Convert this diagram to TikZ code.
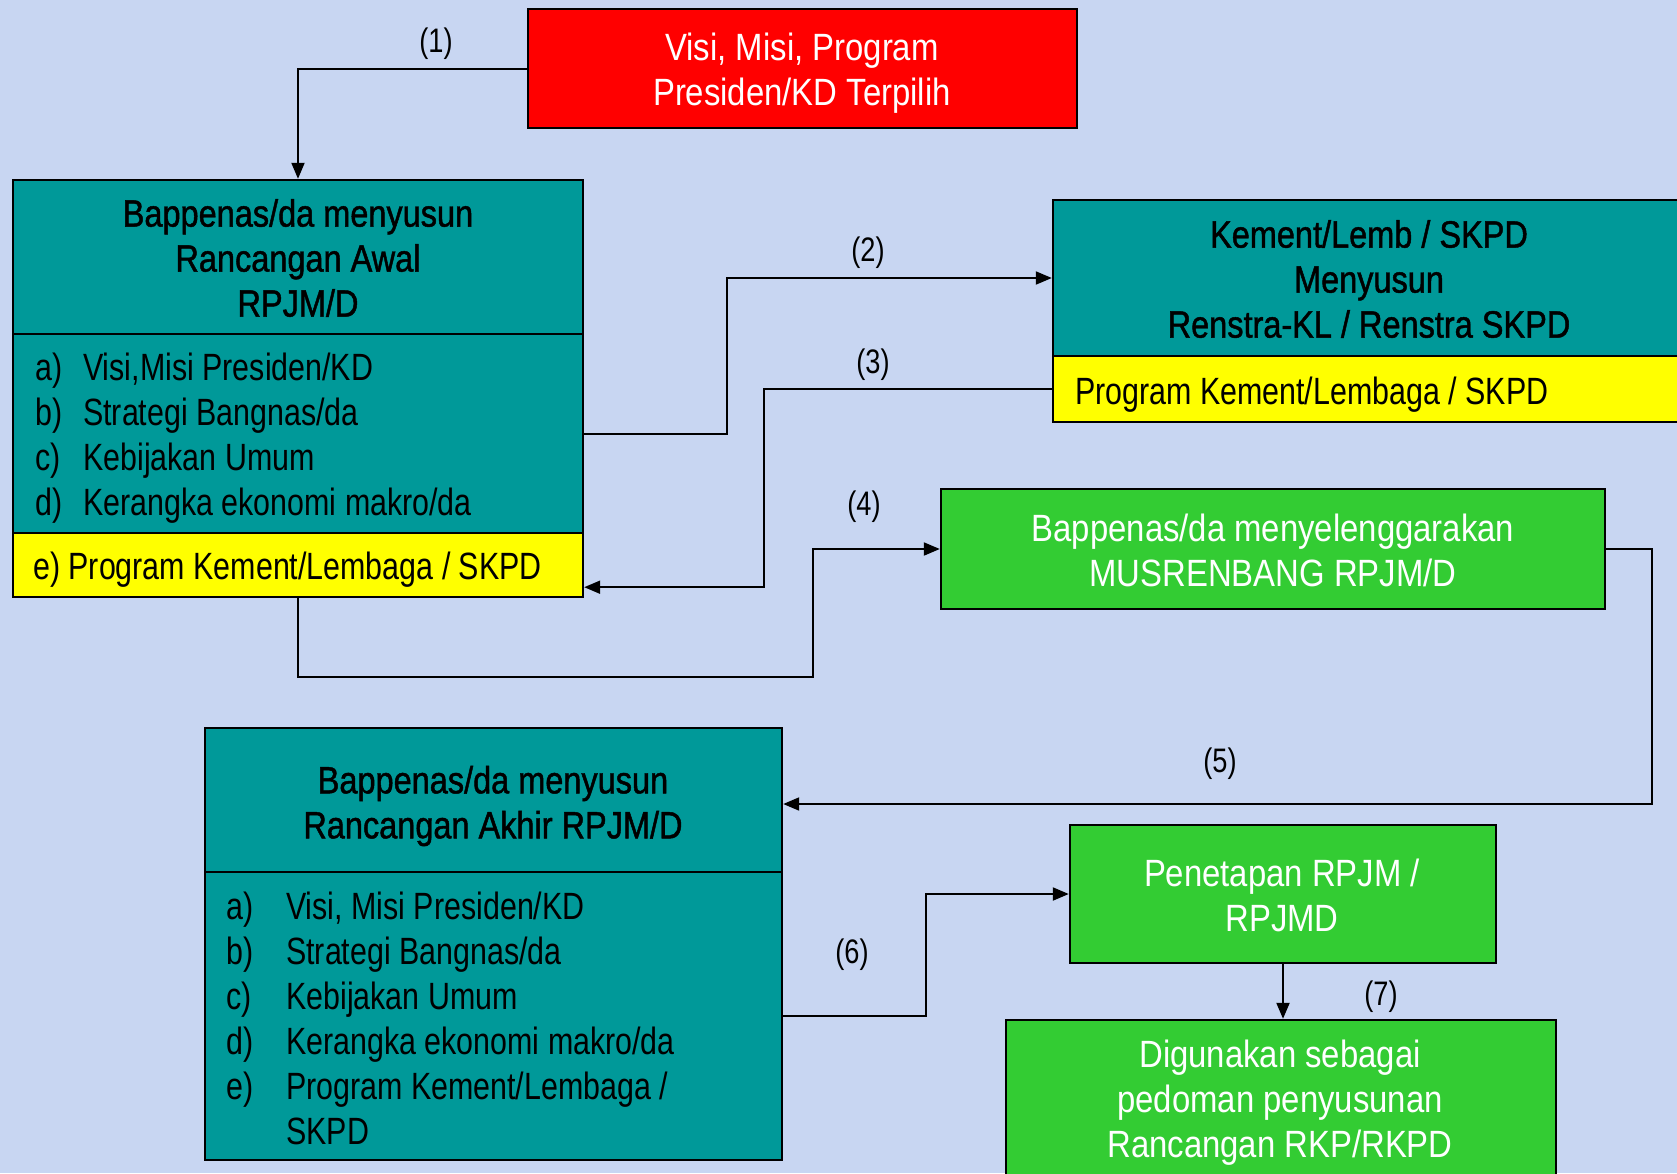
\documentclass[tikz,border=0pt]{standalone}
\usepackage{fontspec}
\setmainfont{Liberation Sans}[FakeStretch=0.8]
\newfontfamily\hdfont{Liberation Sans}[FakeStretch=0.855,FakeBold=1.2]
\newfontfamily\wfont{Liberation Sans}[FakeStretch=0.865]
\usetikzlibrary{arrows.meta,calc}
\definecolor{bgc}{RGB}{200,214,242}
\definecolor{teal1}{RGB}{0,153,153}
\definecolor{red1}{RGB}{255,0,0}
\definecolor{yel1}{RGB}{255,255,0}
\definecolor{grn1}{RGB}{51,204,51}
\begin{document}
\begin{tikzpicture}[x=1pt,y=-1pt,
  boxs/.style={draw=black,line width=2.4pt,rectangle,inner sep=0pt},
  txt/.style={inner sep=0pt,align=center,text=white,font=\wfont\fontsize{38}{45}\selectfont},
  hd/.style={inner sep=0pt,align=center,font=\hdfont\fontsize{38}{45}\selectfont},
  lst/.style={inner sep=0pt,align=left,anchor=west,font=\fontsize{38}{45}\selectfont},
  lbl/.style={inner sep=0pt,font=\fontsize{34}{40}\selectfont},
  arr/.style={line width=2pt,-{Triangle[length=16pt,width=13pt]}}]
\clip (0,0) rectangle (1677,1173);
\fill[bgc] (0,0) rectangle (1677,1173);

% boxes
\node[boxs,fill=red1,minimum width=549pt,minimum height=119pt] (red) at (802.5,68.5) {};
\node[boxs,fill=teal1,minimum width=570pt,minimum height=154pt] (Ahead) at (298,257) {};
\node[boxs,fill=teal1,minimum width=570pt,minimum height=199pt] (Abody) at (298,433.5) {};
\node[boxs,fill=yel1,minimum width=570pt,minimum height=64pt] (Ayel) at (298,565) {};
\node[boxs,fill=teal1,minimum width=637pt,minimum height=156pt] (Khead) at (1371.5,278) {};
\node[boxs,fill=yel1,minimum width=637pt,minimum height=66pt] (Kyel) at (1371.5,389) {};
\node[boxs,fill=grn1,minimum width=664pt,minimum height=120pt] (Mus) at (1273,549) {};
\node[boxs,fill=teal1,minimum width=577pt,minimum height=144pt] (Bhead) at (493.5,800) {};
\node[boxs,fill=teal1,minimum width=577pt,minimum height=288pt] (Bbody) at (493.5,1016) {};
\node[boxs,fill=grn1,minimum width=426pt,minimum height=138pt] (Pen) at (1283,894) {};
\node[boxs,fill=grn1,minimum width=550pt,minimum height=170pt] (Dig) at (1281,1105) {};

% texts
\node[txt] (redt) at (802,73) {Visi, Misi, Program\\Presiden/KD Terpilih};
\node[hd] (Aht) at (298,258) {Bappenas/da menyusun\\Rancangan Awal\\RPJM/D};
\node[lst] (Abt) at (35,438) {\makebox[48pt][l]{a)}Visi,Misi Presiden/KD\\
  \makebox[48pt][l]{b)}Strategi Bangnas/da\\
  \makebox[48pt][l]{c)}Kebijakan Umum\\
  \makebox[48pt][l]{d)}Kerangka ekonomi makro/da};
\node[lst] (Ayt) at (33,570) {e) Program Kement/Lembaga / SKPD};
\node[hd] (Kht) at (1369,279) {Kement/Lemb / SKPD\\Menyusun\\Renstra-KL / Renstra SKPD};
\node[lst] (Kyt) at (1075,395) {Program Kement/Lembaga / SKPD};
\node[txt] (Must) at (1273,550) {Bappenas/da menyelenggarakan\\MUSRENBANG RPJM/D};
\node[hd] (Bht) at (493,806) {Bappenas/da menyusun\\Rancangan Akhir RPJM/D};
\node[lst] (Bbt) at (226,1018) {\makebox[60pt][l]{a)}Visi, Misi Presiden/KD\\
  \makebox[60pt][l]{b)}Strategi Bangnas/da\\
  \makebox[60pt][l]{c)}Kebijakan Umum\\
  \makebox[60pt][l]{d)}Kerangka ekonomi makro/da\\
  \makebox[60pt][l]{e)}Program Kement/Lembaga /\\
  \makebox[60pt][l]{}SKPD};
\node[txt] (Pent) at (1282,895) {Penetapan RPJM /\\RPJMD};
\node[txt] (Digt) at (1280,1103) {Digunakan sebagai\\pedoman penyusunan\\Rancangan RKP/RKPD};

% connectors
\coordinate (c4) at (813,677);
\coordinate (c5) at (1652,804);
\draw[arr] (red.west) -| (Ahead.north);
\draw[arr] (Abody.east) -- ++(143,0) |- (Khead.west);
\draw[arr] (Kyel.west) -- ++(-288,0) |- ($(Ayel.south east)+(0,-11)$);
\draw[arr] (Ayel.south) |- (c4) |- (Mus.west);
\draw[arr] (Mus.east) -| (c5) -- (Bhead.east |- c5);
\draw[arr] (Bbody.east) -- ++(143,0) |- (Pen.west);
\draw[arr] (Pen.south) -- (Pen.south |- Dig.north);

% labels
\node[lbl] (l1) at (436,44) {(1)};
\node[lbl] (l2) at (868,253) {(2)};
\node[lbl] (l3) at (873,365) {(3)};
\node[lbl] (l4) at (864,507) {(4)};
\node[lbl] (l5) at (1220,764) {(5)};
\node[lbl] (l6) at (852,955) {(6)};
\node[lbl] (l7) at (1381,997) {(7)};
\end{tikzpicture}
\end{document}
